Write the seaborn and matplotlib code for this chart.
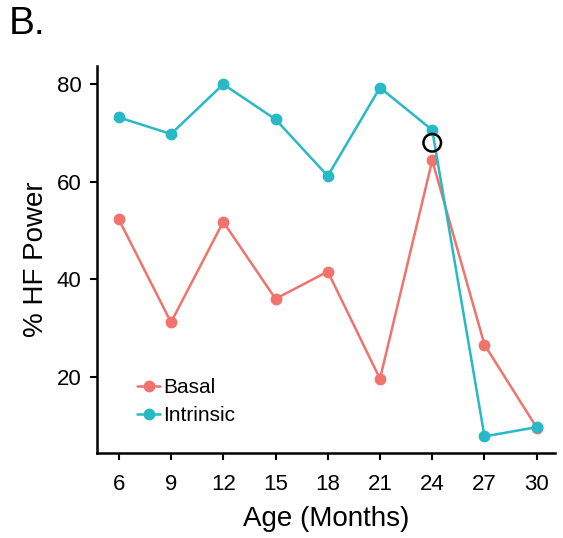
import matplotlib
matplotlib.use("Agg")
import matplotlib.pyplot as plt
import seaborn as sns
import pandas as pd

ages = [6, 9, 12, 15, 18, 21, 24, 27, 30]
basal = [52.3, 31.2, 51.8, 36.0, 41.6, 19.6, 64.4, 26.6, 9.6]
intrinsic = [73.2, 69.8, 80.0, 72.8, 61.2, 79.3, 70.6, 7.8, 9.7]
highlight_x = [24]
highlight_y = [68.0]
series_names = ["Basal", "Intrinsic"]
colors = ["#F0736E", "#27B9C5"]

df = pd.DataFrame({
    "Age": ages * 2,
    "Power": basal + intrinsic,
    "Group": [series_names[0]] * len(ages) + [series_names[1]] * len(ages),
})

sns.set_style("white")
plt.rcParams["font.family"] = ["Liberation Sans", "DejaVu Sans"]
plt.rcParams["text.color"] = "black"
plt.rcParams["axes.labelcolor"] = "black"

fig = plt.figure(figsize=(5.63, 5.38), dpi=100)
ax = fig.add_axes([0.1723, 0.158, 0.8135, 0.719])

sns.lineplot(data=df, x="Age", y="Power", hue="Group", palette=colors,
             hue_order=series_names, marker="o", markersize=8.5,
             markeredgewidth=0, linewidth=1.8, ax=ax, zorder=3)
ax.scatter(highlight_x, highlight_y, s=160, facecolors="none",
           edgecolors="black", linewidths=1.8, zorder=4)

ax.set_xlim(4.75, 31.05)
ax.set_ylim(4.4, 83.7)
ax.set_xticks(ages)
ax.set_yticks([20, 40, 60, 80])
ax.set_xlabel("Age (Months)", fontsize=20, labelpad=8)
ax.set_ylabel("% HF Power", fontsize=20, labelpad=6)
ax.tick_params(axis="x", pad=10)
ax.tick_params(axis="y", pad=6)
ax.tick_params(axis="both", labelsize=16, direction="out", length=5,
               width=1.5, color="black", labelcolor="black",
               bottom=True, left=True)
for side in ["top", "right"]:
    ax.spines[side].set_visible(False)
for side in ["left", "bottom"]:
    ax.spines[side].set_color("black")
    ax.spines[side].set_linewidth(1.8)

leg = ax.legend(loc="lower left", bbox_to_anchor=(0.07, 0.05), frameon=False,
                fontsize=15, handlelength=1.1, handletextpad=0.15,
                borderaxespad=0, labelspacing=0.45)

fig.text(0.015, 0.955, "B.", fontsize=28, ha="left", va="center")

fig.savefig("out.png", dpi=100)
